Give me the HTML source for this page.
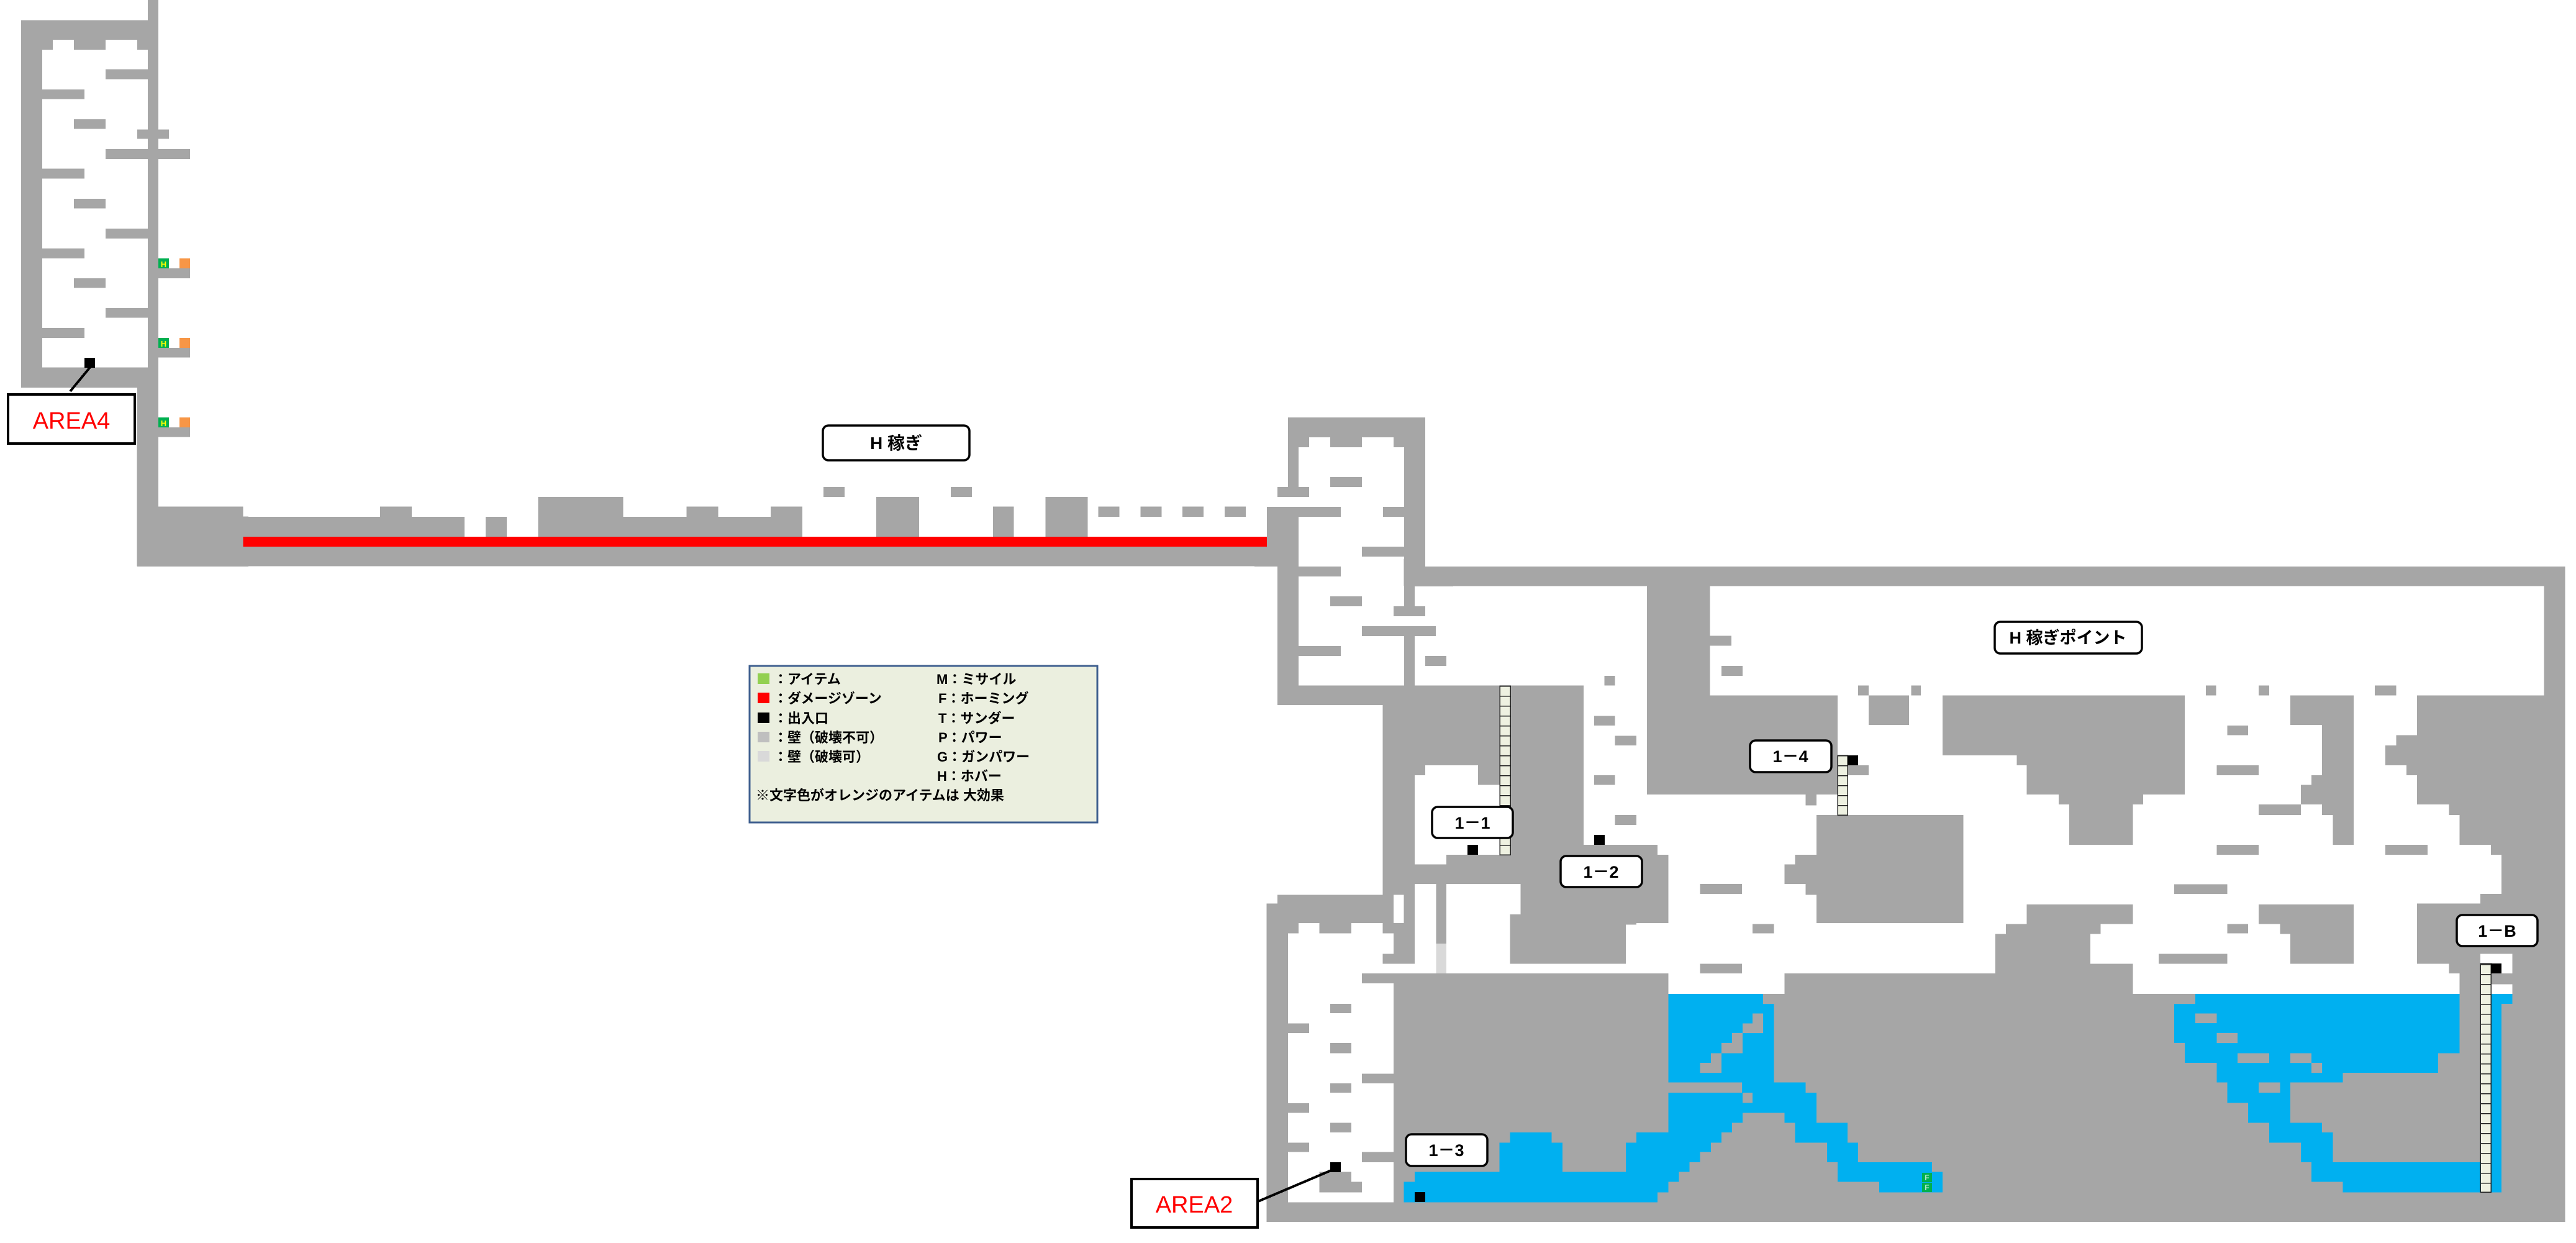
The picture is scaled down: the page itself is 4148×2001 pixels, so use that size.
<!DOCTYPE html>
<html><head><meta charset="utf-8"><style>
html,body{margin:0;padding:0;background:#fff;}
svg{display:block;}
text{font-family:"Liberation Sans","Noto Sans CJK JP",sans-serif;}
</style></head><body>
<svg width="4148" height="2001" viewBox="0 0 4148 2001" xmlns="http://www.w3.org/2000/svg" shape-rendering="crispEdges">
<defs>
<pattern id="lad" patternUnits="userSpaceOnUse" x="0" y="0" width="40" height="16">
<rect width="40" height="16" fill="#eef1e1"/><rect width="40" height="1.5" fill="#222"/>
</pattern>
</defs>
<rect width="4148" height="2001" fill="#fff"/>

<!-- zoom1 : left tower -->
<g transform="scale(0.33333,0.58685)">
<path fill="#a6a6a6" d="M714 0H765V1063H714Z M102 55H765V1063H102Z M663 1063H765V1554H663Z M765 1390H1172V1554H765Z M1172 1417H1200V1554H1172Z"/>
<path fill="#fff" d="M204 109H714V1008H204Z"/>
<path fill="#a6a6a6" d="M204 109H255V136H204Z M357 109H510V136H357Z M663 109H714V136H663Z M663 355H816V381H663Z M510 409H918V436H510Z M510 190H714V217H510Z M204 245H408V272H204Z M357 327H510V354H357Z M204 463H408V490H204Z M357 545H510V572H357Z M510 627H714V654H510Z M204 682H408V709H204Z M357 763H510V790H357Z M510 845H714V872H510Z M204 900H408V927H204Z M765 736H918V763H765Z M765 954H918V981H765Z M765 1172H918V1199H765Z"/>
<path fill="#00b050" d="M765 709H816V736H765Z M765 927H816V954H765Z M765 1145H816V1172H765Z"/>
<path fill="#f79646" d="M867 709H918V736H867Z M867 927H918V954H867Z M867 1145H918V1172H867Z"/>
<path fill="#000" d="M408 982H459V1008H408Z"/>
</g>
<text x="263.5" y="430" font-size="13" fill="#ffff00" text-anchor="middle" font-weight="bold">H</text>
<text x="263.5" y="558" font-size="13" fill="#ffff00" text-anchor="middle" font-weight="bold">H</text>
<text x="263.5" y="686" font-size="13" fill="#ffff00" text-anchor="middle" font-weight="bold">H</text>

<!-- zoom4 : corridor -->
<g transform="translate(200,660) scale(1.21212,0.33333)">
<path fill="#a6a6a6" d="M17 0H45V755H17Z M17 467H158V755H17Z M158 516H452V755H158Z M340 467H382V516H340Z M480 516H508V612H480Z M550 420H663V612H550Z M663 516H901V612H663Z M747 467H789V516H747Z M859 467H901V516H859Z M999 420H1056V612H999Z M1154 467H1182V612H1154Z M1224 420H1280V612H1224Z M1294 467H1322V516H1294Z M1350 467H1378V516H1350Z M1406 467H1434V516H1406Z M1462 467H1490V516H1462Z M158 612H1545V755H158Z M929 372H957V420H929Z M1098 372H1126V420H1098Z"/>
<path fill="#ff0000" d="M158 612H1518V660H158Z"/>
</g>

<!-- zoom5 : right tower -->
<g transform="translate(2020,660) scale(0.33333)">
<path fill="#a6a6a6" d="M162 36H825V132H162Z M162 132H264V180H162Z M366 132H519V180H366Z M672 132H825V180H672Z M162 180H213V372H162Z M111 372H264V420H111Z M366 324H519V372H366Z M60 468H417V516H60Z M621 468H723V516H621Z M723 180H825V756H723Z M723 756H960V852H723Z M723 852H774V948H723Z M672 948H825V996H672Z M519 660H723V708H519Z M60 516H213V756H60Z M0 660H60V756H0Z M111 756H213V1380H111Z M213 756H417V804H213Z M366 900H519V948H366Z M519 1044H876V1092H519Z M723 1092H774V1332H723Z M825 1188H927V1236H825Z M213 1140H417V1188H213Z M111 1332H960V1380H111Z"/>
<path fill="#ff0000" d="M0 612H60V660H0Z"/>
</g>

<!-- zoom6 : middle complex -->
<g transform="translate(2000,900) scale(0.68500,0.70200)">
<path fill="#a6a6a6" d="M406 17H1568V62H406Z M380 0H430V62H380Z M83 290H606V335H83Z M331 335H606V473H331Z M331 473H406V770H331Z M406 473H431V496H406Z M555 473H606V518H555Z M630 290H803V655H630Z M630 655H977V678H630Z M480 678H1002V700H480Z M406 700H1002V745H406Z M655 745H1002V835H655Z M630 815H927V838H630Z M630 835H902V928H630Z M380 745H406V905H380Z M331 905H406V928H331Z M456 745H480V882H456Z M83 770H356V835H83Z M58 790H108V1520H58Z M108 835H133V858H108Z M182 835H257V858H182Z M331 835H380V858H331Z M356 858H380V905H356Z M282 950H1002V973H282Z M356 973H1002V1475H356Z M58 1475H1568V1520H58Z M1002 997H1568V1475H1002Z M1275 950H1568V997H1275Z M207 1020H257V1041H207Z M108 1065H158V1087H108Z M207 1110H257V1133H207Z M282 1180H356V1202H282Z M207 1202H257V1224H207Z M108 1248H158V1270H108Z M207 1293H257V1315H207Z M108 1338H158V1360H108Z M282 1360H356V1383H282Z M182 1405H257V1452H182Z M257 1428H282V1452H257Z M952 62H1100V540H952Z M1100 313H1400V540H1100Z M1325 540H1350V565H1325Z M1350 587H1568V835H1350Z M1300 678H1350V745H1300Z M1275 700H1300V745H1275Z M1325 745H1350V770H1325Z M1423 473H1473V496H1423Z M1448 290H1473V313H1448Z M1473 313H1568V380H1473Z M1100 176H1150V199H1100Z M1127 245H1177V268H1127Z M852 268H877V290H852Z M828 360H877V382H828Z M877 405H927V427H877Z M828 496H877V518H828Z M877 587H927V610H877Z M1077 745H1175V768H1077Z M1200 837H1250V858H1200Z M1077 928H1175V950H1077Z"/>
<path fill="#d9d9d9" d="M456 882H480V950H456Z"/>
<path fill="#00b0f0" d="M1002 997L1225 997L1225 1020L1250 1020L1250 1200L1325 1200L1325 1224L1350 1224L1350 1293L1423 1293L1423 1338L1448 1338L1448 1383L1568 1383L1568 1452L1498 1452L1498 1428L1400 1428L1400 1383L1375 1383L1375 1338L1300 1338L1300 1293L1275 1293L1275 1270L1177 1270L1177 1293L1152 1293L1152 1315L1127 1315L1127 1338L1102 1338L1102 1360L1077 1360L1077 1383L1052 1383L1052 1405L1027 1405L1027 1428L1002 1428L1002 1452L977 1452L977 1475L380 1475L380 1428L406 1428L406 1405L605 1405L605 1338L630 1338L630 1315L728 1315L728 1338L753 1338L753 1405L902 1405L902 1338L927 1338L927 1315L1002 1315Z"/>
<path fill="#a6a6a6" d="M1002 1200H1175V1224H1002Z M1177 1224H1200V1247H1177Z M1200 1042H1225V1087H1200Z M1177 1065H1200V1087H1177Z M1152 1087H1177V1133H1152Z M1127 1110H1152V1133H1127Z M1102 1133H1127V1178H1102Z M1077 1155H1102V1178H1077Z"/>
</g>

<!-- zoom7 : right complex -->
<g transform="translate(3074,900) scale(0.68500,0.70200)">
<path fill="#a6a6a6" d="M0 17H1542V62H0Z M1493 62H1542V1520H1493Z M5 290H28V313H5Z M698 290H722V313H698Z M822 290H847V313H822Z M1095 290H1145V313H1095Z M79 313H648V450H79Z M253 450H648V473H253Z M277 473H648V540H277Z M352 540H550V563H352Z M377 563H526V655H377Z M896 313H1045V380H896Z M971 380H1045V496H971Z M946 496H1045V518H946Z M921 518H1045V563H921Z M971 563H1045V587H971Z M996 587H1045V655H996Z M1194 313H1493V404H1194Z M1145 404H1493V427H1145Z M1120 427H1493V473H1120Z M1169 473H1493V496H1169Z M1194 496H1493V563H1194Z M1269 563H1493V587H1269Z M1294 587H1493V655H1294Z M1368 655H1493V678H1368Z M1393 678H1493V768H1393Z M1343 768H1493V790H1343Z M1194 790H1343V928H1194Z M1343 790H1493V905H1343Z M1418 905H1493V1520H1418Z M1269 928H1343V950H1269Z M1294 950H1343V997H1294Z M1368 950H1418V975H1368Z M1393 1020H1493V1520H1393Z M0 587H128V835H0Z M748 382H797V404H748Z M723 473H822V496H723Z M822 563H921V587H822Z M723 655H822V678H723Z M1120 655H1219V678H1120Z M623 746H748V768H623Z M748 837H797V858H748Z M587 905H748V928H587Z M277 792H526V837H277Z M228 837H450V860H228Z M203 860H426V950H203Z M401 928H526V950H401Z M0 950H526V997H0Z M0 997H1368V1520H0Z M0 1452H1542V1520H0Z M822 792H1045V837H822Z M872 837H1045V860H872Z M896 860H1045V928H896Z"/>
<path fill="#00b0f0" d="M673 997L1294 997L1294 1133L1244 1133L1244 1178L1020 1178L1020 1200L896 1200L896 1293L971 1293L971 1315L996 1315L996 1383L1343 1383L1343 1452L1020 1452L1020 1428L946 1428L946 1383L921 1383L921 1338L847 1338L847 1293L797 1293L797 1247L748 1247L748 1200L723 1200L723 1155L648 1155L648 1110L623 1110L623 1020L673 1020Z M1368 997H1393V1452H1368Z M1393 997H1418V1020H1393Z M0 1383H54V1452H0Z M54 1405H79V1452H54Z"/>
<path fill="#a6a6a6" d="M673 1042H723V1064H673Z M723 1087H772V1110H723Z M772 1133H847V1155H772Z M896 1133H946V1155H896Z M946 1155H971V1178H946Z M822 1200H872V1224H822Z"/>
</g>

<!-- F items -->
<rect x="3095" y="1888" width="16" height="15" fill="#00b050"/>
<rect x="3095" y="1904" width="16" height="15" fill="#00b050"/>
<text x="3103" y="1900" font-size="12" fill="#fff" text-anchor="middle">F</text>
<text x="3103" y="1916" font-size="12" fill="#fff" text-anchor="middle">F</text>

<!-- ladders -->
<rect x="2415" y="1104" width="17" height="272" fill="url(#lad)" stroke="#222" stroke-width="1.5"/>
<rect x="2959" y="1216" width="16" height="96" fill="url(#lad)" stroke="#222" stroke-width="1.5"/>
<rect x="3994" y="1551" width="17" height="368" fill="url(#lad)" stroke="#222" stroke-width="1.5"/>

<!-- exits -->
<g fill="#000">
<rect x="136" y="576" width="17" height="16"/>
<rect x="2363" y="1360" width="17" height="16"/>
<rect x="2567" y="1344" width="17" height="16"/>
<rect x="2975" y="1216" width="17" height="16"/>
<rect x="2278" y="1919" width="17" height="16"/>
<rect x="2142" y="1871" width="17" height="16"/>
<rect x="4011" y="1551" width="17" height="16"/>
</g>

<!-- connectors -->
<line x1="113" y1="630" x2="146" y2="590" stroke="#000" stroke-width="4"/>
<line x1="2026" y1="1934" x2="2146" y2="1883" stroke="#000" stroke-width="4"/>

<!-- AREA boxes -->
<rect x="13" y="635" width="204" height="79" fill="#fff" stroke="#000" stroke-width="4" shape-rendering="auto"/>
<text x="115" y="690" font-size="38" fill="#ff0000" text-anchor="middle">AREA4</text>
<rect x="1822" y="1898" width="203" height="78" fill="#fff" stroke="#000" stroke-width="4" shape-rendering="auto"/>
<text x="1923" y="1952" font-size="38" fill="#ff0000" text-anchor="middle">AREA2</text>

<!-- rounded labels -->
<g shape-rendering="auto" font-weight="bold" fill="#000">
<rect x="1325" y="685" width="236" height="56" rx="9" fill="#fff" stroke="#000" stroke-width="3.5"/>
<text x="1443" y="723" font-size="28" text-anchor="middle">H 稼ぎ</text>
<rect x="3212" y="1001" width="237" height="51" rx="9" fill="#fff" stroke="#000" stroke-width="3.5"/>
<text x="3330" y="1036" font-size="27" text-anchor="middle">H 稼ぎポイント</text>
<rect x="2306" y="1299" width="130" height="50" rx="9" fill="#fff" stroke="#000" stroke-width="3.5"/>
<text x="2371" y="1334" font-size="27" text-anchor="middle">1－1</text>
<rect x="2513" y="1378" width="131" height="50" rx="9" fill="#fff" stroke="#000" stroke-width="3.5"/>
<text x="2578" y="1413" font-size="27" text-anchor="middle">1－2</text>
<rect x="2264" y="1826" width="131" height="51" rx="9" fill="#fff" stroke="#000" stroke-width="3.5"/>
<text x="2329" y="1861" font-size="27" text-anchor="middle">1－3</text>
<rect x="2818" y="1192" width="131" height="51" rx="9" fill="#fff" stroke="#000" stroke-width="3.5"/>
<text x="2883" y="1227" font-size="27" text-anchor="middle">1－4</text>
<rect x="3956" y="1473" width="130" height="50" rx="9" fill="#fff" stroke="#000" stroke-width="3.5"/>
<text x="4021" y="1508" font-size="27" text-anchor="middle">1－B</text>
</g>

<!-- legend -->
<rect x="1207" y="1072" width="560" height="252" fill="#ebefdf" stroke="#3f5f8f" stroke-width="3"/>
<rect x="1220" y="1084" width="19" height="17" fill="#92d050"/>
<rect x="1220" y="1115" width="19" height="17" fill="#ff0000"/>
<rect x="1220" y="1147" width="19" height="17" fill="#000"/>
<rect x="1220" y="1178" width="19" height="17" fill="#bfbfbf"/>
<rect x="1220" y="1209" width="19" height="17" fill="#d9d9d9"/>
<g font-size="22" fill="#000" font-weight="bold">
<text x="1246" y="1101">：アイテム</text>
<text x="1246" y="1132">：ダメージゾーン</text>
<text x="1246" y="1164">：出入口</text>
<text x="1246" y="1195">：壁（破壊不可）</text>
<text x="1246" y="1226">：壁（破壊可）</text>
<text x="1508" y="1101">M：ミサイル</text>
<text x="1511" y="1132">F：ホーミング</text>
<text x="1511" y="1164">T：サンダー</text>
<text x="1511" y="1195">P：パワー</text>
<text x="1509" y="1226">G：ガンパワー</text>
<text x="1509" y="1257">H：ホバー</text>
<text x="1217" y="1288">※文字色がオレンジのアイテムは 大効果</text>
</g>
</svg>
</body></html>
